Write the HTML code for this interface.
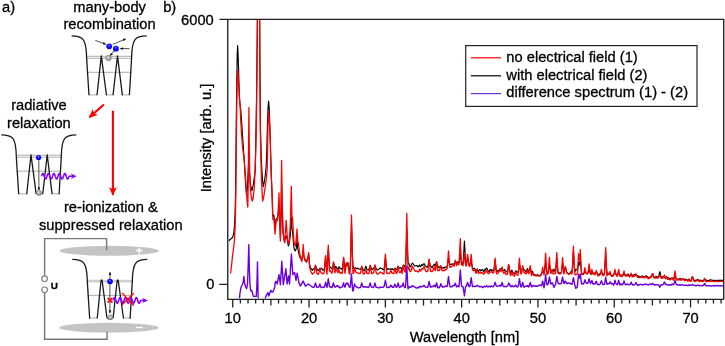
<!DOCTYPE html>
<html><head><meta charset="utf-8"><style>
html,body{margin:0;padding:0;background:#fff;}
body{width:725px;height:346px;overflow:hidden;}
svg{display:block;will-change:transform;}
text{font-family:"Liberation Sans", sans-serif;font-size:14.7px;fill:#000;stroke:#000;stroke-width:0.3px;}
.w{fill:none;stroke:#1a1a1a;stroke-width:1.3;}
.lv{fill:none;stroke:#999;stroke-width:0.8;}
</style></head><body>
<svg width="725" height="346" viewBox="0 0 725 346">
<defs>
<clipPath id="pc"><rect x="228.5" y="19" width="495" height="279.3"/></clipPath>
<radialGradient id="gb" cx="0.5" cy="0.5" r="0.5" fx="0.48" fy="0.3"><stop offset="0" stop-color="#c0c8ff"/><stop offset="0.25" stop-color="#2a2aff"/><stop offset="0.8" stop-color="#0000ff"/><stop offset="1" stop-color="#0000e0"/></radialGradient>
<radialGradient id="gg" cx="0.45" cy="0.4" r="0.6"><stop offset="0" stop-color="#d8e0d8"/><stop offset="1" stop-color="#7a8a7a"/></radialGradient>
<marker id="ah" viewBox="0 0 6 6" refX="5" refY="3" markerWidth="3.2" markerHeight="3.2" markerUnits="userSpaceOnUse" orient="auto"><path d="M0,0.6L6,3L0,5.4z" fill="#111"/></marker>
<marker id="ahr" viewBox="0 0 10 10" refX="9" refY="5" markerWidth="8.6" markerHeight="8.6" markerUnits="userSpaceOnUse" orient="auto"><path d="M0,0.3L10,5L0,9.7L2.5,5z" fill="#f00"/></marker>
<marker id="ahp" viewBox="0 0 10 10" refX="9" refY="5" markerWidth="6" markerHeight="6" markerUnits="userSpaceOnUse" orient="auto"><path d="M0,0L10,5L0,10L3,5z" fill="#8800ff"/></marker>
</defs>

<text x="2" y="11.5">a)</text>
<text x="109.6" y="11.5" text-anchor="middle">many-body</text>
<text x="109.6" y="28.7" text-anchor="middle">recombination</text>
<text x="38.9" y="109.9" text-anchor="middle">radiative</text>
<text x="38.9" y="128.1" text-anchor="middle">relaxation</text>
<text x="110.9" y="212.2" text-anchor="middle">re-ionization &amp;</text>
<text x="110.8" y="230.3" text-anchor="middle">suppressed relaxation</text>
<text x="163.2" y="11.8">b)</text>
<text x="213.8" y="24.5" text-anchor="end">6000</text>
<text x="214.3" y="288.9" text-anchor="end">0</text>
<text x="232.75" y="322.7" text-anchor="middle">10</text><text x="309.05" y="322.7" text-anchor="middle">20</text><text x="385.35" y="322.7" text-anchor="middle">30</text><text x="461.65" y="322.7" text-anchor="middle">40</text><text x="537.95" y="322.7" text-anchor="middle">50</text><text x="614.25" y="322.7" text-anchor="middle">60</text><text x="690.55" y="322.7" text-anchor="middle">70</text>
<text x="464.5" y="341.6" text-anchor="middle">Wavelength [nm]</text>
<text transform="translate(210.9,138) rotate(-90)" text-anchor="middle">Intensity [arb. u.]</text>
<g clip-path="url(#pc)" fill="none" stroke-linejoin="round">
<polyline points="228.6,241.0 230.0,239.5 231.5,238.5 232.6,237.4 233.6,234.0 234.3,228.0 235.0,216.0 235.5,195.0 235.9,160.0 236.3,120.0 236.8,80.0 237.2,55.0 237.6,45.6 238.0,52.0 238.6,70.0 239.2,90.0 239.8,103.0 240.2,106.2 240.8,110.0 241.5,120.0 242.5,135.0 243.5,150.0 244.5,165.0 245.5,182.0 246.5,194.7 247.3,190.0 248.0,175.0 248.8,160.0 249.5,172.0 250.5,185.0 252.0,190.7 253.2,185.0 254.2,178.0 255.2,171.6 255.8,140.0 256.5,100.0 257.1,50.0 257.5,10.0 258.6,5.0 259.6,10.0 259.9,60.0 260.5,130.0 261.3,160.0 262.5,180.0 263.3,186.6 264.3,182.0 265.3,175.0 266.2,166.0 266.8,150.0 267.4,125.0 268.0,108.0 268.6,101.0 269.2,108.0 269.8,125.0 270.3,140.0 270.9,162.0 271.5,180.0 272.2,198.0 272.6,216.0 273.9,215.0 275.0,228.0 276.1,219.0 277.6,218.0 278.3,212.0 279.0,203.0 279.6,218.0 280.4,238.0 281.0,220.0 281.6,184.0 282.2,210.0 283.0,232.0 284.0,240.0 284.8,241.0 285.5,236.0 286.2,236.0 286.8,238.0 287.4,240.0 288.3,246.0 289.1,244.0 290.3,236.0 291.3,217.0 291.9,228.0 292.7,233.0 293.5,244.0 294.2,249.0 295.2,251.0 296.2,249.0 297.0,240.0 297.7,248.0 298.5,252.0 299.5,256.0 300.3,258.0 301.8,260.0 303.2,250.0 304.2,258.0 305.4,261.0 306.5,262.0 308.7,255.0 309.5,264.0 310.5,268.0 312.0,269.7 312.5,270.3 313.0,269.0 313.5,268.8 314.0,269.1 314.5,268.5 315.0,267.0 315.5,265.3 316.0,266.9 316.5,268.1 317.0,269.1 317.5,269.8 318.0,270.7 318.5,270.2 318.9,269.7 319.0,269.6 319.5,268.9 319.9,268.3 320.0,268.3 320.5,268.3 321.0,268.2 321.5,268.6 322.0,268.8 322.5,270.0 323.0,270.2 323.5,270.1 324.0,269.4 324.5,267.6 325.0,262.8 325.3,259.8 325.5,257.5 325.6,256.6 326.0,261.0 326.3,264.1 326.5,265.8 326.6,267.5 327.0,269.9 327.5,262.2 328.0,254.2 328.3,249.1 328.5,252.1 329.0,260.1 329.5,267.8 330.0,267.7 330.5,267.2 330.6,267.1 331.0,267.9 331.5,268.2 332.0,268.9 332.5,267.9 333.0,265.5 333.5,262.0 334.0,264.4 334.2,265.4 334.5,267.6 334.9,269.0 335.0,268.9 335.5,266.9 335.9,266.4 336.0,266.6 336.5,267.2 337.0,268.7 337.2,268.4 337.5,269.0 338.0,269.4 338.5,268.5 338.9,266.6 339.0,266.7 339.5,267.9 340.0,268.2 340.5,268.5 341.0,268.1 341.5,269.2 342.0,269.7 342.5,268.8 343.0,264.0 343.5,258.7 343.6,257.7 344.0,261.4 344.5,265.8 344.6,266.5 344.9,269.4 345.0,269.5 345.0,269.5 345.5,267.0 346.0,264.8 346.3,263.1 346.5,264.0 347.0,265.3 347.5,264.3 347.9,262.7 348.0,263.3 348.5,266.0 349.0,269.3 349.5,269.9 350.0,269.6 350.5,260.1 351.0,243.3 351.5,224.3 352.0,240.3 352.5,255.9 352.6,259.1 353.0,265.8 353.5,267.5 354.0,268.7 354.5,268.5 354.7,268.0 355.0,268.1 355.5,267.6 356.0,268.5 356.5,268.5 357.0,268.8 357.5,268.2 358.0,268.4 358.5,268.6 359.0,269.0 359.5,269.2 360.0,269.1 360.5,268.9 360.6,268.8 361.0,268.3 361.5,267.5 361.7,266.8 362.0,267.5 362.5,268.0 363.0,269.7 363.2,269.9 363.5,270.2 363.5,270.2 364.0,270.6 364.5,269.9 365.0,268.6 365.5,267.0 365.9,266.2 366.0,266.5 366.5,268.1 367.0,269.7 367.5,269.5 368.0,270.0 368.5,269.2 368.8,269.8 369.0,270.0 369.5,267.9 370.0,266.4 370.2,265.3 370.5,265.8 371.0,267.5 371.5,269.3 371.6,269.4 372.0,269.9 372.5,269.4 373.0,268.6 373.5,268.4 374.0,267.6 374.5,266.8 374.7,266.0 374.9,265.4 375.0,265.6 375.0,265.7 375.5,267.0 376.0,268.3 376.5,268.9 377.0,269.6 377.5,270.1 378.0,269.7 378.5,269.1 379.0,269.0 379.5,268.6 380.0,268.2 380.2,267.9 380.5,268.2 381.0,268.4 381.5,268.6 382.0,268.6 382.5,269.0 383.0,269.6 383.5,269.4 384.0,270.2 384.5,266.5 385.0,261.3 385.2,259.2 385.4,257.1 385.5,258.1 385.7,259.8 386.0,263.1 386.5,268.0 387.0,269.4 387.5,268.7 388.0,269.1 388.5,268.9 389.0,269.2 389.5,269.2 390.0,269.2 390.5,268.8 390.9,268.7 391.0,268.9 391.5,268.8 392.0,269.7 392.5,268.8 393.0,269.2 393.1,269.3 393.5,269.7 393.8,269.8 394.0,269.7 394.5,269.2 394.9,268.1 395.0,268.1 395.5,268.4 395.9,269.1 396.0,269.3 396.5,269.5 397.0,269.3 397.5,268.0 397.9,266.8 398.0,266.6 398.1,266.4 398.5,267.5 399.0,267.8 399.5,268.2 400.0,267.9 400.5,267.7 401.0,267.6 401.0,267.6 401.4,268.8 401.5,269.1 402.0,270.3 402.5,269.0 403.0,266.7 403.3,265.3 403.5,265.1 404.0,265.2 404.5,266.3 405.0,267.2 405.5,267.7 406.0,255.0 406.0,254.4 406.5,239.2 406.8,229.5 407.0,234.7 407.5,248.0 407.6,252.2 407.9,259.0 408.0,261.9 408.5,263.4 408.8,263.3 409.0,263.6 409.0,263.7 409.5,265.4 410.0,266.9 410.5,266.8 411.0,266.2 411.5,264.5 412.0,263.6 412.1,263.4 412.5,263.1 412.8,263.2 413.0,263.6 413.2,263.9 413.5,264.3 413.9,265.1 414.0,265.3 414.5,265.8 414.7,265.8 415.0,266.0 415.5,266.0 416.0,265.7 416.5,265.5 417.0,265.7 417.5,266.4 418.0,267.0 418.5,266.1 419.0,265.7 419.5,265.2 419.6,265.3 420.0,266.4 420.5,266.7 421.0,266.1 421.5,264.5 421.6,264.5 422.0,265.4 422.5,265.1 423.0,265.3 423.1,264.9 423.5,263.9 423.7,263.9 424.0,264.3 424.2,263.8 424.5,264.0 425.0,265.6 425.5,265.9 426.0,266.5 426.5,267.0 427.0,267.1 427.5,267.0 428.0,265.8 428.5,263.2 429.0,260.5 429.1,259.8 429.5,261.8 430.0,264.3 430.1,265.1 430.5,266.1 431.0,266.7 431.5,266.8 432.0,267.8 432.5,267.2 433.0,266.1 433.2,265.6 433.5,265.1 434.0,264.5 434.3,264.1 434.4,264.2 434.5,264.4 435.0,266.2 435.5,265.9 436.0,263.9 436.5,261.5 437.0,263.5 437.5,265.3 437.8,266.4 438.0,266.2 438.5,266.8 439.0,267.7 439.5,267.2 440.0,266.7 440.5,266.2 440.8,266.0 441.0,266.7 441.5,267.8 442.0,268.3 442.5,267.8 442.7,267.9 443.0,268.0 443.5,267.4 444.0,268.1 444.5,267.3 445.0,267.7 445.5,267.3 446.0,267.3 446.5,266.9 447.0,266.1 447.5,265.0 447.8,262.5 448.0,261.3 448.5,258.2 449.0,260.7 449.5,264.1 450.0,264.6 450.5,264.4 451.0,264.0 451.5,264.4 452.0,264.2 452.5,264.1 453.0,263.7 453.1,263.8 453.5,264.4 454.0,264.8 454.5,263.4 455.0,262.0 455.3,261.1 455.5,261.1 456.0,262.5 456.5,263.5 456.9,262.7 457.0,262.5 457.4,261.9 457.5,262.1 458.0,262.1 458.5,262.7 459.0,262.4 459.5,259.1 460.0,254.8 460.2,253.9 460.3,253.2 460.5,255.2 461.0,259.4 461.5,263.9 462.0,263.1 462.5,262.6 463.0,263.2 463.1,263.3 463.5,257.2 464.0,248.3 464.4,241.1 464.5,242.9 464.9,249.6 464.9,249.8 465.0,252.5 465.5,261.6 465.5,262.0 466.0,264.9 466.5,263.7 467.0,260.7 467.5,257.0 467.6,256.4 468.0,259.0 468.5,262.6 469.0,264.5 469.5,264.4 469.8,264.4 470.0,264.2 470.5,263.4 471.0,262.1 471.2,261.8 471.5,263.6 472.0,265.7 472.5,268.1 473.0,268.6 473.2,268.6 473.5,268.8 474.0,268.6 474.5,268.2 475.0,269.2 475.1,269.4 475.5,270.7 476.0,272.5 476.5,270.9 477.0,269.3 477.2,268.8 477.5,269.4 478.0,271.0 478.5,271.8 479.0,270.4 479.5,269.9 480.0,269.6 480.5,270.9 481.0,270.7 481.5,270.7 482.0,269.5 482.5,269.6 483.0,269.8 483.5,271.5 484.0,271.1 484.5,271.2 485.0,269.1 485.5,269.8 486.0,268.4 486.5,268.4 486.7,268.1 487.0,268.5 487.5,269.4 488.0,270.5 488.5,271.1 489.0,271.8 489.5,270.6 490.0,269.8 490.5,269.6 491.0,270.3 491.5,269.7 491.7,269.6 492.0,270.2 492.5,270.2 493.0,271.0 493.5,270.4 494.0,269.7 494.5,265.4 495.0,260.8 495.1,260.1 495.5,264.0 496.0,268.4 496.1,269.3 496.5,271.9 497.0,270.7 497.5,271.2 498.0,270.9 498.5,271.1 498.9,270.5 499.0,270.3 499.5,269.6 500.0,268.7 500.1,268.6 500.5,269.0 501.0,269.3 501.5,268.5 502.0,268.6 502.1,268.5 502.5,269.3 503.0,270.6 503.5,270.7 503.8,270.6 504.0,270.3 504.5,269.4 504.8,269.6 505.0,270.0 505.5,270.9 506.0,271.5 506.5,271.6 507.0,272.0 507.5,271.6 508.0,268.9 508.5,265.7 508.7,265.3 509.0,266.3 509.1,266.6 509.5,269.3 509.6,270.0 510.0,271.8 510.5,272.6 511.0,272.0 511.5,270.8 512.0,270.2 512.0,270.2 512.5,271.8 513.0,272.9 513.5,273.1 514.0,273.0 514.5,273.9 515.0,272.7 515.5,271.0 515.6,270.7 516.0,271.0 516.5,271.6 517.0,272.1 517.5,271.9 518.0,272.4 518.5,270.0 519.0,266.2 519.4,263.1 519.5,263.9 520.0,267.4 520.5,270.8 521.0,271.2 521.5,270.6 522.0,269.4 522.5,267.7 522.6,267.3 523.0,267.7 523.4,268.5 523.5,268.8 524.0,269.5 524.5,270.1 525.0,270.3 525.5,271.6 526.0,271.6 526.5,271.1 527.0,269.8 527.5,268.5 527.5,268.6 528.0,269.7 528.5,270.6 529.0,271.4 529.5,269.6 530.0,267.5 530.2,267.3 530.5,268.7 531.0,271.2 531.5,273.8 532.0,272.3 532.5,271.4 532.6,271.4 533.0,272.9 533.5,274.1 534.0,275.4 534.5,274.6 535.0,275.3 535.5,274.8 536.0,275.3 536.5,275.0 537.0,275.1 537.5,274.6 538.0,275.0 538.5,275.2 539.0,275.8 539.5,276.0 540.0,276.0 540.5,275.5 541.0,274.2 541.5,273.5 542.0,272.6 542.5,271.7 542.7,270.6 543.0,271.2 543.5,270.9 544.0,270.9 544.5,271.0 545.0,267.0 545.5,263.7 545.6,262.6 546.0,266.1 546.5,270.5 547.0,273.4 547.5,273.1 548.0,272.9 548.5,270.2 549.0,266.1 549.4,263.3 549.5,264.4 550.0,268.2 550.5,271.7 551.0,272.6 551.2,271.9 551.5,270.7 552.0,270.0 552.1,269.9 552.5,270.8 553.0,271.7 553.5,270.6 554.0,269.1 554.5,270.3 555.0,271.4 555.5,272.3 556.0,266.8 556.5,262.0 556.8,259.2 557.0,261.6 557.5,268.0 558.0,272.8 558.5,273.1 559.0,272.8 559.5,272.9 560.0,273.3 560.5,273.0 561.0,272.9 561.5,272.3 562.0,268.3 562.5,264.4 562.6,263.5 563.0,265.9 563.5,270.0 564.0,273.1 564.5,271.1 565.0,268.7 565.1,268.1 565.2,267.8 565.5,268.1 565.9,269.0 566.0,269.6 566.5,271.4 567.0,272.6 567.5,273.0 568.0,273.5 568.5,273.5 569.0,273.9 569.5,273.5 570.0,273.2 570.2,272.7 570.5,272.2 571.0,271.6 571.5,272.0 572.0,272.2 572.5,266.3 573.0,257.7 573.4,250.9 573.5,252.6 574.0,261.8 574.0,262.5 574.5,269.5 574.9,271.7 575.0,271.6 575.5,270.3 575.7,269.2 576.0,269.3 576.5,269.3 577.0,269.6 577.5,270.6 578.0,267.1 578.5,263.3 578.6,262.2 579.0,265.2 579.5,264.1 579.9,262.7 580.0,261.7 580.3,258.5 580.5,261.3 581.0,267.3 581.5,273.2 581.6,273.7 582.0,273.4 582.1,273.4 582.5,273.6 583.0,273.9 583.5,273.7 584.0,273.0 584.5,271.9 584.9,271.1 585.0,271.4 585.5,272.0 586.0,273.1 586.5,273.6 587.0,273.9 587.5,273.7 588.0,273.1 588.5,271.0 588.7,270.1 589.0,269.0 589.1,268.5 589.5,270.0 589.6,270.6 590.0,272.5 590.5,273.9 591.0,274.3 591.2,273.7 591.5,273.1 591.9,272.3 592.0,272.4 592.5,272.8 593.0,273.6 593.5,273.5 593.9,272.9 594.0,272.9 594.5,273.4 595.0,274.0 595.5,273.6 596.0,272.8 596.2,272.4 596.5,272.5 597.0,272.7 597.5,274.1 598.0,275.0 598.5,274.7 599.0,274.3 599.5,273.7 600.0,274.2 600.5,274.0 601.0,273.0 601.4,272.2 601.5,272.3 602.0,273.4 602.5,274.6 603.0,274.5 603.5,274.5 604.0,273.9 604.5,273.0 604.5,272.8 605.0,264.0 605.3,260.0 605.5,256.3 605.7,253.5 606.0,259.4 606.5,268.3 607.0,275.1 607.5,273.7 607.8,273.0 608.0,273.2 608.5,274.3 608.6,274.4 609.0,274.2 609.5,274.1 610.0,273.7 610.1,273.7 610.5,274.7 610.5,274.7 611.0,275.2 611.5,276.1 612.0,276.4 612.5,276.3 613.0,275.4 613.5,274.1 614.0,273.8 614.5,273.1 615.0,272.3 615.5,273.0 616.0,274.2 616.5,275.0 617.0,275.3 617.5,275.2 617.5,275.1 618.0,273.8 618.1,273.7 618.5,273.0 618.7,272.7 618.9,273.0 619.0,273.2 619.5,274.2 619.6,274.6 620.0,274.9 620.5,274.9 620.9,275.0 621.0,275.5 621.5,275.9 622.0,275.6 622.5,275.1 623.0,274.9 623.5,274.4 623.9,274.0 624.0,273.8 624.4,274.3 624.5,274.4 625.0,275.2 625.5,275.0 625.9,275.1 626.0,275.1 626.5,275.0 626.7,274.9 627.0,275.1 627.5,275.0 628.0,274.1 628.1,274.1 628.5,274.5 629.0,275.1 629.5,275.6 630.0,275.8 630.1,275.6 630.5,274.8 631.0,274.7 631.1,274.6 631.5,275.0 632.0,275.9 632.2,275.7 632.5,275.4 633.0,275.1 633.5,274.9 634.0,275.2 634.5,274.6 635.0,274.8 635.5,274.8 635.9,275.1 636.0,275.2 636.5,275.0 637.0,275.4 637.5,276.0 638.0,275.9 638.5,276.4 639.0,276.2 639.5,276.9 640.0,276.7 640.5,276.6 641.0,276.6 641.5,276.2 642.0,276.3 642.5,275.8 643.0,276.6 643.5,276.5 644.0,277.2 644.5,276.8 645.0,277.4 645.5,276.2 646.0,276.0 646.2,275.8 646.5,275.7 647.0,276.7 647.5,276.6 648.0,277.4 648.5,277.3 649.0,278.1 649.5,277.6 650.0,277.9 650.5,276.4 650.6,276.3 651.0,276.6 651.5,275.8 652.0,274.7 652.2,274.1 652.5,273.9 652.8,273.9 653.0,274.5 653.5,276.4 654.0,277.1 654.5,277.1 655.0,277.0 655.5,276.8 656.0,276.4 656.5,276.5 657.0,276.9 657.5,277.1 658.0,277.0 658.5,276.8 659.0,275.0 659.5,273.0 659.8,271.5 660.0,272.5 660.2,273.2 660.5,274.6 660.9,276.2 661.0,276.8 661.5,277.3 662.0,277.3 662.5,276.9 663.0,277.1 663.5,276.9 664.0,276.6 664.3,276.4 664.4,276.6 664.5,276.8 665.0,277.7 665.5,278.2 666.0,277.2 666.5,276.4 667.0,277.5 667.5,278.2 668.0,278.0 668.5,277.6 669.0,278.0 669.5,278.5 670.0,278.7 670.5,278.4 671.0,278.2 671.5,278.2 672.0,278.0 672.1,277.9 672.5,278.4 673.0,279.0 673.1,279.3 673.5,279.5 673.5,279.5 674.0,278.8 674.5,276.4 675.0,274.4 675.5,276.3 676.0,278.7 676.5,279.7 677.0,279.4 677.4,279.2 677.5,279.2 678.0,278.9 678.5,279.0 679.0,279.1 679.5,278.9 680.0,278.3 680.0,278.3 680.5,278.7 681.0,279.2 681.5,279.0 682.0,279.1 682.0,279.1 682.4,279.2 682.5,279.2 683.0,279.0 683.4,278.6 683.5,278.6 684.0,279.0 684.5,279.8 685.0,279.6 685.5,279.2 685.6,279.2 686.0,279.3 686.5,279.6 686.9,279.7 687.0,279.8 687.5,280.1 688.0,280.5 688.5,279.6 689.0,279.0 689.1,279.0 689.5,279.5 690.0,280.5 690.5,280.7 691.0,280.7 691.5,279.2 692.0,277.8 692.2,277.2 692.2,277.1 692.5,276.8 692.5,276.9 693.0,278.0 693.3,278.7 693.5,279.2 694.0,280.2 694.5,280.5 695.0,280.4 695.5,280.3 696.0,280.3 696.5,280.1 697.0,279.9 697.5,279.6 697.8,279.3 698.0,279.4 698.5,279.9 699.0,280.5 699.5,280.4 700.0,280.6 700.5,280.2 701.0,280.2 701.5,280.2 702.0,280.7 702.5,280.8 703.0,280.6 703.0,280.6 703.0,280.6 703.5,280.3 704.0,279.8 704.5,279.4 704.6,279.4 705.0,279.8 705.5,280.0 706.0,280.3 706.5,280.1 707.0,280.4 707.5,280.5 708.0,280.5 708.5,280.7 709.0,280.4 709.5,280.3 710.0,280.0 710.5,279.7 711.0,280.0 711.5,280.1 712.0,280.3 712.5,280.3 713.0,280.3 713.5,280.3 714.0,280.4 714.5,280.6 715.0,280.8 715.5,280.5 716.0,280.1 716.5,280.5 717.0,280.7 717.5,280.9 718.0,280.4 718.5,280.2 719.0,280.4 719.5,280.3 720.0,280.4 720.5,280.3 721.0,280.2 721.5,280.2 722.0,280.5 722.5,280.2 723.0,280.3" stroke="#000" stroke-width="1.15"/>
<polyline points="230.5,273.5 231.5,266.0 232.3,258.0 233.3,250.0 234.3,242.0 235.0,230.0 235.5,215.0 235.9,190.0 236.2,160.0 236.5,130.0 236.8,105.0 237.2,82.0 237.6,70.5 238.1,76.0 238.7,86.0 239.3,97.0 240.0,104.0 240.3,110.0 240.7,120.0 241.6,135.0 242.6,148.0 243.3,153.0 243.8,154.5 244.2,160.0 245.4,175.0 246.3,190.0 247.2,202.0 247.8,207.0 248.3,180.0 248.6,140.0 248.9,107.5 249.2,140.0 249.6,170.0 250.3,188.0 251.3,197.0 252.3,201.0 253.2,198.0 254.2,188.0 255.0,172.0 255.8,150.0 256.4,125.0 257.0,70.0 257.5,10.0 258.6,5.0 259.6,10.0 259.9,80.0 260.3,130.0 260.9,160.0 261.6,182.0 262.3,196.0 262.7,201.0 263.5,198.0 264.5,192.0 265.5,185.0 266.5,177.0 267.2,169.0 267.6,150.0 268.0,125.0 268.5,110.5 269.0,115.0 269.6,125.0 270.2,138.0 270.7,160.0 271.3,177.0 272.0,192.0 272.5,205.0 272.9,219.5 273.9,218.0 275.0,234.0 276.1,221.5 277.6,220.5 278.3,210.0 279.0,193.0 279.6,215.0 280.4,241.0 281.0,210.0 281.6,160.5 282.2,200.0 283.0,231.0 284.0,240.0 284.8,242.7 285.5,230.0 286.2,220.3 286.8,230.0 287.4,238.3 288.3,244.0 289.1,242.7 290.3,225.0 291.3,186.4 291.9,215.0 292.7,219.5 293.5,235.0 294.2,243.5 295.2,246.0 296.2,240.0 297.0,229.0 297.7,240.0 298.5,244.5 299.5,252.0 300.3,256.5 301.8,261.6 302.6,255.0 303.2,244.5 303.9,256.0 305.4,260.3 306.5,262.0 307.7,258.0 308.7,252.4 309.5,266.0 310.5,270.5 311.2,272.0 312.0,273.6 312.5,274.2 313.0,273.2 313.5,273.0 314.0,272.9 314.5,271.7 315.0,268.3 315.5,265.1 316.0,268.3 316.5,271.4 317.0,273.3 317.5,273.7 318.0,274.5 318.5,274.3 318.9,273.1 319.0,272.7 319.5,270.3 319.9,268.5 320.0,268.8 320.5,270.9 321.0,272.6 321.5,273.2 322.0,272.9 322.5,273.6 323.0,273.9 323.5,273.7 324.0,273.1 324.5,271.1 325.0,264.3 325.3,260.1 325.5,257.2 325.6,255.7 326.0,261.2 326.3,266.0 326.5,268.5 326.6,270.8 327.0,274.2 327.5,263.8 328.0,252.3 328.3,245.1 328.5,249.3 329.0,260.2 329.5,271.2 330.0,271.1 330.5,270.8 330.6,270.7 331.0,271.8 331.5,272.9 332.0,273.2 332.5,271.0 333.0,266.7 333.5,262.1 334.0,266.3 334.2,267.8 334.5,270.8 334.9,272.9 335.0,272.6 335.5,270.7 335.9,269.5 336.0,269.7 336.5,270.2 337.0,270.9 337.2,270.5 337.5,271.8 338.0,272.7 338.5,271.7 338.9,269.6 339.0,269.8 339.5,271.7 340.0,272.9 340.5,273.1 341.0,272.3 341.5,273.1 342.0,273.6 342.5,272.1 343.0,265.7 343.5,258.6 343.6,257.3 344.0,262.6 344.5,268.8 344.6,269.7 344.9,273.3 345.0,273.3 345.0,273.3 345.5,269.4 346.0,265.5 346.3,262.9 346.5,264.7 347.0,266.0 347.5,265.2 347.9,262.6 348.0,263.7 348.5,268.1 349.0,272.9 349.5,274.0 350.0,273.9 350.5,261.7 351.0,238.7 351.5,215.0 352.0,238.7 352.5,261.7 352.6,266.4 353.0,273.5 353.5,273.3 354.0,271.3 354.5,269.4 354.7,268.5 355.0,269.6 355.5,270.6 356.0,272.2 356.5,272.3 357.0,272.9 357.5,272.9 358.0,273.2 358.5,273.2 359.0,273.4 359.5,273.5 360.0,273.4 360.5,273.1 360.6,272.5 361.0,270.2 361.5,267.5 361.7,266.1 362.0,267.9 362.5,270.5 363.0,273.3 363.2,273.6 363.5,273.9 363.5,274.0 364.0,274.0 364.5,273.7 365.0,272.4 365.5,270.8 365.9,269.8 366.0,270.3 366.5,272.1 367.0,273.4 367.5,273.2 368.0,273.5 368.5,273.4 368.8,273.5 369.0,273.3 369.5,269.9 370.0,266.8 370.2,265.3 370.5,267.1 371.0,270.7 371.5,273.5 371.6,273.5 372.0,273.8 372.5,273.2 373.0,272.9 373.5,272.9 374.0,270.7 374.5,267.6 374.7,266.1 374.9,264.8 375.0,265.4 375.0,265.5 375.5,268.8 376.0,272.1 376.5,273.1 377.0,273.8 377.5,274.2 378.0,274.1 378.5,273.7 379.0,273.4 379.5,272.8 380.0,272.1 380.2,271.8 380.5,272.3 381.0,272.7 381.5,272.7 382.0,272.8 382.5,273.3 383.0,273.9 383.5,273.7 384.0,273.8 384.5,268.1 385.0,260.4 385.2,257.2 385.4,254.1 385.5,255.7 385.7,258.4 386.0,263.6 386.5,271.3 387.0,273.7 387.5,273.2 388.0,273.5 388.5,273.2 389.0,273.6 389.5,273.4 390.0,272.5 390.5,271.0 390.9,270.3 391.0,270.7 391.5,271.8 392.0,273.2 392.5,273.2 393.0,273.1 393.1,273.2 393.5,273.8 393.8,273.4 394.0,272.5 394.5,270.5 394.9,268.7 395.0,269.0 395.5,270.7 395.9,272.6 396.0,273.1 396.5,273.5 397.0,272.8 397.5,269.8 397.9,267.1 398.0,266.5 398.1,266.0 398.5,268.4 399.0,270.9 399.5,272.7 400.0,272.4 400.5,271.6 401.0,270.6 401.0,270.6 401.4,272.0 401.5,272.4 402.0,273.6 402.5,271.0 403.0,267.6 403.3,265.5 403.5,266.2 404.0,268.7 404.5,271.0 405.0,271.8 405.5,272.1 406.0,252.1 406.0,251.2 406.5,227.6 406.8,213.3 407.0,222.3 407.5,245.5 407.6,252.5 407.9,263.8 408.0,268.1 408.5,269.3 408.8,267.9 409.0,267.9 409.0,268.0 409.5,269.9 410.0,271.5 410.5,271.8 411.0,271.0 411.5,269.1 412.0,266.9 412.1,266.7 412.5,266.7 412.8,266.7 413.0,267.4 413.2,267.8 413.5,268.3 413.9,269.1 414.0,269.2 414.5,270.3 414.7,270.4 415.0,271.1 415.5,271.3 416.0,271.1 416.5,271.0 417.0,271.4 417.5,271.4 418.0,272.1 418.5,271.5 419.0,270.8 419.5,269.6 419.6,269.4 420.0,270.2 420.5,271.2 421.0,270.3 421.5,269.0 421.6,268.7 422.0,269.4 422.5,269.4 423.0,269.0 423.1,268.5 423.5,267.5 423.7,267.1 424.0,267.3 424.2,266.6 424.5,267.4 425.0,269.8 425.5,270.7 426.0,271.4 426.5,271.7 427.0,271.7 427.5,271.7 428.0,270.0 428.5,265.3 429.0,260.2 429.1,259.1 429.5,263.3 430.0,267.7 430.1,269.2 430.5,271.4 431.0,271.0 431.5,271.1 432.0,271.7 432.5,271.3 433.0,270.3 433.2,269.7 433.5,268.9 434.0,267.9 434.3,267.2 434.4,267.5 434.5,267.9 435.0,270.6 435.5,270.3 436.0,266.0 436.5,261.7 437.0,264.9 437.5,268.7 437.8,270.6 438.0,270.3 438.5,270.7 439.0,270.7 439.5,270.4 440.0,268.3 440.5,266.8 440.8,265.6 441.0,266.6 441.5,268.9 442.0,270.7 442.5,270.6 442.7,270.7 443.0,270.8 443.5,270.5 444.0,270.9 444.5,270.2 445.0,270.3 445.5,269.6 446.0,269.4 446.5,269.3 447.0,268.7 447.5,265.6 447.8,260.4 448.0,257.9 448.5,250.8 449.0,257.4 449.5,264.6 450.0,267.3 450.5,267.1 451.0,266.5 451.5,266.8 452.0,266.4 452.5,265.8 453.0,264.7 453.1,264.6 453.5,265.4 454.0,266.3 454.5,264.8 455.0,261.9 455.3,260.2 455.5,260.9 456.0,263.5 456.5,265.7 456.9,264.7 457.0,264.4 457.4,263.3 457.5,263.4 458.0,263.7 458.5,264.8 459.0,264.5 459.5,255.2 460.0,244.5 460.2,241.2 460.3,238.6 460.5,243.2 461.0,254.1 461.5,264.8 462.0,265.2 462.5,264.8 463.0,265.5 463.1,265.5 463.5,262.0 464.0,256.7 464.4,252.3 464.5,253.3 464.9,257.1 464.9,257.2 465.0,258.8 465.5,264.2 465.5,264.4 466.0,266.2 466.5,264.8 467.0,260.5 467.5,255.3 467.6,254.4 468.0,258.1 468.5,262.8 469.0,266.0 469.5,266.4 469.8,266.3 470.0,265.7 470.5,261.4 471.0,256.0 471.2,254.4 471.5,258.3 472.0,264.0 472.5,269.9 473.0,270.2 473.2,270.3 473.5,270.4 474.0,270.1 474.5,269.8 475.0,270.4 475.1,270.6 475.5,272.0 476.0,273.4 476.5,272.1 477.0,269.8 477.2,269.1 477.5,270.2 478.0,272.4 478.5,273.6 479.0,273.0 479.5,272.4 480.0,272.5 480.5,273.1 481.0,272.9 481.5,273.1 482.0,272.4 482.5,272.8 483.0,273.2 483.5,274.2 484.0,273.5 484.5,273.2 485.0,272.0 485.5,272.5 486.0,271.2 486.5,270.3 486.7,269.8 487.0,270.8 487.5,272.3 488.0,273.5 488.5,273.5 489.0,273.5 489.5,272.7 490.0,272.4 490.5,272.2 491.0,272.0 491.5,271.3 491.7,271.1 492.0,271.9 492.5,272.6 493.0,273.2 493.5,272.9 494.0,271.3 494.5,265.4 495.0,259.2 495.1,258.1 495.5,263.3 496.0,269.1 496.1,270.3 496.5,273.7 497.0,273.3 497.5,273.8 498.0,273.0 498.5,272.7 498.9,272.0 499.0,271.8 499.5,270.8 500.0,269.5 500.1,269.4 500.5,270.9 501.0,271.7 501.5,269.3 502.0,267.3 502.1,266.8 502.5,268.8 503.0,271.7 503.5,273.1 503.8,273.2 504.0,273.0 504.5,272.1 504.8,271.9 505.0,272.4 505.5,273.6 506.0,274.3 506.5,274.4 507.0,274.6 507.5,273.7 508.0,270.2 508.5,265.1 508.7,264.4 509.0,265.6 509.1,266.0 509.5,269.6 509.6,270.7 510.0,273.6 510.5,275.5 511.0,275.2 511.5,273.2 512.0,271.6 512.0,271.6 512.5,273.8 513.0,275.4 513.5,275.7 514.0,275.5 514.5,276.2 515.0,274.2 515.5,271.8 515.6,271.4 516.0,272.5 516.5,274.2 517.0,274.8 517.5,275.0 518.0,275.3 518.5,270.8 519.0,264.0 519.4,258.1 519.5,259.3 520.0,265.9 520.5,272.1 521.0,274.1 521.5,273.3 522.0,270.1 522.5,266.3 522.6,265.6 523.0,267.7 523.4,269.9 523.5,270.5 524.0,272.6 524.5,272.3 525.0,272.6 525.5,273.6 526.0,273.8 526.5,273.5 527.0,271.7 527.5,270.1 527.5,270.3 528.0,271.8 528.5,273.3 529.0,273.7 529.5,270.1 530.0,266.8 530.2,265.6 530.5,267.8 531.0,272.0 531.5,275.7 532.0,274.1 532.5,272.9 532.6,272.4 533.0,273.4 533.5,274.7 534.0,275.3 534.5,275.1 535.0,275.7 535.5,275.5 536.0,276.0 536.5,275.9 537.0,275.9 537.5,275.9 538.0,275.9 538.5,275.9 539.0,276.0 539.5,275.8 540.0,275.8 540.5,275.4 541.0,275.1 541.5,274.7 542.0,271.9 542.5,268.5 542.7,267.2 543.0,269.3 543.5,271.8 544.0,274.9 544.5,272.5 545.0,264.0 545.5,255.0 545.6,253.1 546.0,259.9 546.5,268.3 547.0,274.4 547.5,274.1 548.0,274.0 548.5,269.3 549.0,262.6 549.4,257.3 549.5,258.8 550.0,265.5 550.5,271.9 551.0,273.6 551.2,272.7 551.5,271.3 552.0,269.7 552.1,269.5 552.5,271.3 553.0,273.7 553.5,274.0 554.0,273.3 554.5,273.3 555.0,273.6 555.5,273.7 556.0,265.9 556.5,257.6 556.8,252.6 557.0,256.0 557.5,264.9 558.0,272.9 558.5,273.7 559.0,273.6 559.5,273.8 560.0,273.9 560.5,273.8 561.0,273.2 561.5,271.9 562.0,265.0 562.5,259.0 562.6,257.6 563.0,262.4 563.5,269.3 564.0,274.0 564.5,271.3 565.0,267.8 565.1,266.9 565.2,266.4 565.5,267.1 565.9,268.3 566.0,269.2 566.5,272.0 567.0,273.4 567.5,273.4 568.0,273.7 568.5,274.0 569.0,274.5 569.5,274.0 570.0,273.4 570.2,272.9 570.5,272.7 571.0,272.8 571.5,273.4 572.0,274.0 572.5,266.2 573.0,255.3 573.4,246.1 573.5,248.2 574.0,259.2 574.0,260.1 574.5,270.1 574.9,274.3 575.0,274.5 575.5,274.9 575.7,274.8 576.0,274.7 576.5,274.3 577.0,274.4 577.5,272.4 578.0,263.9 578.5,255.3 578.6,253.6 579.0,260.0 579.5,259.3 579.9,257.2 580.0,255.4 580.3,249.6 580.5,253.9 581.0,263.9 581.5,273.7 581.6,274.6 582.0,274.1 582.1,274.2 582.5,274.3 583.0,274.6 583.5,274.7 584.0,272.8 584.5,270.2 584.9,267.7 585.0,268.3 585.5,270.9 586.0,273.0 586.5,273.7 587.0,273.7 587.5,273.6 588.0,272.8 588.5,268.8 588.7,267.0 589.0,264.9 589.1,263.9 589.5,267.1 589.6,267.9 590.0,271.0 590.5,273.9 591.0,273.1 591.2,272.1 591.5,270.8 591.9,269.3 592.0,269.8 592.5,271.7 593.0,274.2 593.5,273.7 593.9,273.0 594.0,273.2 594.5,273.8 595.0,274.9 595.5,273.2 596.0,271.3 596.2,270.4 596.5,271.3 597.0,272.9 597.5,275.2 598.0,275.8 598.5,275.9 599.0,275.5 599.5,274.9 600.0,274.8 600.5,273.5 601.0,271.2 601.4,269.3 601.5,269.8 602.0,272.1 602.5,275.0 603.0,275.5 603.5,275.5 604.0,275.0 604.5,274.0 604.5,273.8 605.0,262.4 605.3,256.9 605.5,251.8 605.7,247.6 606.0,255.1 606.5,266.6 607.0,275.9 607.5,274.1 607.8,273.0 608.0,273.3 608.5,274.7 608.6,274.7 609.0,274.6 609.5,273.5 610.0,271.8 610.1,271.5 610.5,273.4 610.5,273.5 611.0,274.7 611.5,276.1 612.0,276.1 612.5,276.4 613.0,276.1 613.5,275.6 614.0,274.3 614.5,271.6 615.0,269.3 615.5,272.1 616.0,274.5 616.5,276.0 617.0,276.0 617.5,276.2 617.5,276.0 618.0,272.9 618.1,272.4 618.5,270.3 618.7,269.3 618.9,270.6 619.0,271.2 619.5,274.3 619.6,275.2 620.0,276.4 620.5,275.4 620.9,274.9 621.0,275.3 621.5,276.2 622.0,276.7 622.5,276.2 623.0,275.0 623.5,272.9 623.9,271.4 624.0,270.9 624.4,272.7 624.5,273.1 625.0,275.4 625.5,276.1 625.9,276.2 626.0,276.2 626.5,275.7 626.7,275.7 627.0,276.1 627.5,275.5 628.0,275.3 628.1,275.2 628.5,275.4 629.0,276.5 629.5,276.9 630.0,276.7 630.1,276.5 630.5,274.8 631.0,273.4 631.1,273.2 631.5,274.3 632.0,276.2 632.2,276.7 632.5,276.9 633.0,276.6 633.5,276.1 634.0,276.3 634.5,276.2 635.0,275.4 635.5,274.6 635.9,273.7 636.0,273.9 636.5,275.2 637.0,276.4 637.5,277.4 638.0,277.3 638.5,277.6 639.0,277.5 639.5,277.5 640.0,277.2 640.5,276.8 641.0,277.2 641.5,276.7 642.0,277.2 642.5,276.9 643.0,277.5 643.5,277.5 644.0,277.8 644.5,277.5 645.0,277.7 645.5,276.7 646.0,276.2 646.2,276.0 646.5,276.3 647.0,277.4 647.5,277.8 648.0,278.6 648.5,278.5 649.0,278.5 649.5,277.8 650.0,277.8 650.5,276.9 650.6,276.9 651.0,277.5 651.5,276.5 652.0,274.9 652.2,274.0 652.5,273.6 652.8,273.6 653.0,274.5 653.5,276.7 654.0,277.8 654.5,278.1 655.0,278.1 655.5,278.1 656.0,277.5 656.5,277.6 657.0,277.9 657.5,278.3 658.0,277.8 658.5,277.4 659.0,276.6 659.5,275.5 659.8,274.8 660.0,275.4 660.2,275.7 660.5,276.4 660.9,277.6 661.0,278.0 661.5,278.3 662.0,278.3 662.5,278.0 663.0,278.1 663.5,277.0 664.0,275.7 664.3,274.8 664.4,275.1 664.5,275.6 665.0,277.2 665.5,278.8 666.0,277.8 666.5,276.8 667.0,278.1 667.5,279.3 668.0,279.4 668.5,279.3 669.0,279.3 669.5,279.6 670.0,279.6 670.5,279.8 671.0,279.5 671.5,278.7 672.0,278.0 672.1,277.7 672.5,278.5 673.0,279.7 673.1,280.0 673.5,280.1 673.5,280.1 674.0,278.5 674.5,274.3 675.0,270.8 675.5,274.4 676.0,278.4 676.5,280.1 677.0,279.9 677.4,279.7 677.5,279.7 678.0,279.7 678.5,280.1 679.0,280.2 679.5,279.5 680.0,278.6 680.0,278.6 680.5,279.4 681.0,280.4 681.5,280.0 682.0,279.7 682.0,279.6 682.4,279.7 682.5,279.7 683.0,279.5 683.4,279.0 683.5,279.0 684.0,279.9 684.5,280.7 685.0,280.4 685.5,279.7 685.6,279.7 686.0,280.0 686.5,280.4 686.9,280.4 687.0,280.6 687.5,281.0 688.0,281.4 688.5,280.1 689.0,279.3 689.1,279.1 689.5,279.8 690.0,280.9 690.5,281.3 691.0,281.4 691.5,279.9 692.0,277.8 692.2,277.0 692.2,276.9 692.5,276.7 692.5,276.7 693.0,278.3 693.3,279.2 693.5,279.8 694.0,281.0 694.5,281.4 695.0,281.3 695.5,281.2 696.0,281.2 696.5,281.1 697.0,280.7 697.5,280.2 697.8,279.7 698.0,279.7 698.5,280.6 699.0,281.4 699.5,281.5 700.0,281.4 700.5,281.2 701.0,281.2 701.5,281.2 702.0,281.6 702.5,281.7 703.0,281.7 703.0,281.7 703.0,281.7 703.5,281.0 704.0,279.8 704.5,278.5 704.6,278.3 705.0,279.4 705.5,280.6 706.0,281.6 706.5,281.4 707.0,281.5 707.5,281.5 708.0,281.4 708.5,281.4 709.0,281.3 709.5,281.4 710.0,281.3 710.5,281.1 711.0,281.3 711.5,281.2 712.0,281.3 712.5,281.2 713.0,281.1 713.5,281.4 714.0,281.4 714.5,281.7 715.0,281.6 715.5,281.4 716.0,281.0 716.5,281.3 717.0,281.4 717.5,281.5 718.0,281.5 718.5,281.5 719.0,281.6 719.5,281.3 720.0,281.4 720.5,281.3 721.0,281.3 721.5,281.5 722.0,281.7 722.5,281.4 723.0,281.2" stroke="#f00" stroke-width="1.3"/>
<polyline points="239.3,300.0 240.0,293.0 241.0,287.3 242.3,284.7 243.2,282.0 243.9,276.5 244.6,283.0 245.5,286.5 246.6,288.6 247.5,284.0 248.2,265.0 248.8,244.6 249.4,270.0 250.0,285.0 250.7,290.8 251.8,290.4 252.7,294.0 253.6,296.4 256.2,296.4 256.9,285.0 257.5,262.0 257.9,285.0 258.3,305.0 265.0,305.0 265.3,298.0 266.5,295.0 267.9,292.5 268.8,296.0 270.2,292.0 270.9,290.4 272.0,292.0 272.9,291.9 274.8,287.3 275.1,282.5 276.1,281.3 277.2,284.0 279.0,274.6 280.4,284.7 281.8,261.3 283.3,284.7 285.9,268.8 287.1,284.0 288.5,276.0 289.5,284.0 291.4,254.0 292.8,274.6 294.6,272.4 296.0,280.3 297.2,273.1 298.9,282.5 300.3,286.1 303.2,281.1 305.4,286.1 308.3,284.0 311.9,286.8 312.5,287.0 313.0,287.3 313.5,287.4 314.0,287.1 314.5,286.5 315.0,284.4 315.5,283.0 316.0,284.7 316.5,286.7 317.0,287.5 317.5,287.3 318.0,287.3 318.5,287.4 318.9,286.5 319.0,286.2 319.5,284.9 319.9,283.9 320.0,284.2 320.5,286.2 321.0,287.4 321.5,287.7 322.0,287.3 322.5,287.1 323.0,287.0 323.5,287.2 324.0,287.2 324.5,287.0 325.0,284.7 325.3,283.6 325.5,282.8 325.6,282.3 326.0,283.4 326.3,285.1 326.5,285.9 326.6,286.5 327.0,287.4 327.5,284.5 328.0,280.8 328.3,278.8 328.5,280.1 329.0,283.1 329.5,286.7 330.0,286.9 330.5,287.0 330.6,286.8 331.0,286.9 331.5,287.7 332.0,287.5 332.5,286.4 333.0,284.3 333.5,283.0 334.0,285.1 334.2,285.6 334.5,286.5 334.9,287.3 335.0,287.2 335.5,286.9 335.9,286.4 336.0,286.5 336.5,286.3 337.0,285.6 337.2,285.5 337.5,286.0 338.0,286.6 338.5,286.7 338.9,286.2 339.0,286.4 339.5,287.2 340.0,287.8 340.5,287.8 341.0,287.3 341.5,287.1 342.0,287.0 342.5,286.5 343.0,284.8 343.5,283.1 343.6,282.8 344.0,284.5 344.5,286.2 344.6,286.4 344.9,287.2 345.0,287.1 345.0,287.1 345.5,285.7 346.0,283.9 346.3,283.0 346.5,283.8 347.0,283.9 347.5,284.1 347.9,283.0 348.0,283.4 348.5,285.1 349.0,286.6 349.5,287.2 350.0,287.4 350.5,284.8 351.0,278.6 351.5,274.0 352.0,281.5 352.5,289.1 352.6,290.5 353.0,291.0 353.5,289.1 354.0,286.0 354.5,284.4 354.7,283.9 355.0,284.9 355.5,286.1 356.0,286.8 356.5,286.8 357.0,287.1 357.5,287.7 358.0,287.9 358.5,287.9 359.0,287.7 359.5,287.6 360.0,287.4 360.5,287.5 360.6,287.1 361.0,285.6 361.5,283.8 361.7,283.0 362.0,284.0 362.5,285.8 363.0,287.1 363.2,287.0 363.5,287.0 363.5,287.0 364.0,286.6 364.5,287.0 365.0,286.9 365.5,287.1 365.9,286.7 366.0,286.8 366.5,287.1 367.0,286.9 367.5,287.2 368.0,287.1 368.5,287.6 368.8,287.1 369.0,286.6 369.5,285.2 370.0,283.5 370.2,283.0 370.5,284.3 371.0,286.0 371.5,287.2 371.6,287.2 372.0,286.9 372.5,287.2 373.0,287.4 373.5,287.6 374.0,286.2 374.5,284.2 374.7,283.5 374.9,283.0 375.0,283.3 375.0,283.4 375.5,285.3 376.0,287.1 376.5,287.4 377.0,287.4 377.5,287.4 378.0,287.8 378.5,287.9 379.0,288.0 379.5,287.5 380.0,287.3 380.2,287.1 380.5,287.2 381.0,287.3 381.5,287.1 382.0,287.4 382.5,287.4 383.0,287.3 383.5,287.1 384.0,286.6 384.5,284.8 385.0,282.3 385.2,281.3 385.4,280.3 385.5,280.9 385.7,281.9 386.0,283.7 386.5,286.4 387.0,287.5 387.5,287.7 388.0,287.5 388.5,287.2 389.0,287.3 389.5,287.4 390.0,286.8 390.5,285.7 390.9,285.0 391.0,285.2 391.5,286.2 392.0,286.6 392.5,287.3 393.0,287.1 393.1,287.1 393.5,287.3 393.8,286.9 394.0,286.2 394.5,284.7 394.9,284.1 395.0,284.4 395.5,285.7 395.9,286.8 396.0,287.1 396.5,287.3 397.0,286.8 397.5,285.0 397.9,283.7 398.0,283.4 398.1,283.0 398.5,284.3 399.0,286.5 399.5,287.6 400.0,287.4 400.5,286.8 401.0,286.0 401.0,286.0 401.4,286.3 401.5,286.4 402.0,286.3 402.5,285.0 403.0,283.8 403.3,283.0 403.5,283.8 404.0,286.2 404.5,287.4 405.0,287.7 405.5,287.3 406.0,279.8 406.0,279.5 406.5,270.9 406.8,266.3 407.0,270.1 407.5,279.9 407.6,282.7 407.9,287.2 408.0,288.7 408.5,288.2 408.8,287.1 409.0,286.8 409.0,286.8 409.5,286.8 410.0,287.0 410.5,287.3 411.0,287.1 411.5,286.8 412.0,285.8 412.1,285.7 412.5,286.0 412.8,286.0 413.0,286.2 413.2,286.3 413.5,286.5 413.9,286.5 414.0,286.5 414.5,286.8 414.7,287.0 415.0,287.3 415.5,287.5 416.0,287.8 416.5,288.0 417.0,288.0 417.5,287.5 418.0,287.5 418.5,287.8 419.0,287.7 419.5,286.9 419.6,286.6 420.0,286.2 420.5,286.8 421.0,286.5 421.5,286.9 421.6,286.6 422.0,286.4 422.5,286.6 423.0,286.1 423.1,286.0 423.5,286.0 423.7,285.7 424.0,285.5 424.2,285.4 424.5,285.9 425.0,286.6 425.5,287.2 426.0,287.1 426.5,287.1 427.0,287.1 427.5,287.3 428.0,286.6 428.5,284.4 429.0,281.8 429.1,281.4 429.5,283.5 430.0,285.5 430.1,286.2 430.5,287.4 431.0,286.6 431.5,286.7 432.0,286.2 432.5,286.7 433.0,286.5 433.2,286.3 433.5,286.1 434.0,285.4 434.3,285.3 434.4,285.4 434.5,285.6 435.0,286.7 435.5,286.9 436.0,284.8 436.5,283.0 437.0,284.5 437.5,286.8 437.8,287.7 438.0,287.8 438.5,287.8 439.0,287.1 439.5,287.5 440.0,286.2 440.5,285.0 440.8,283.8 441.0,284.0 441.5,285.2 442.0,286.5 442.5,287.2 442.7,287.1 443.0,287.0 443.5,287.1 444.0,286.7 444.5,286.8 445.0,286.4 445.5,286.1 446.0,285.9 446.5,286.4 447.0,286.5 447.5,284.7 447.8,281.9 448.0,280.6 448.5,276.5 449.0,280.6 449.5,284.3 450.0,286.7 450.5,286.8 451.0,286.8 451.5,286.8 452.0,286.6 452.5,286.2 453.0,285.5 453.1,285.3 453.5,285.7 454.0,285.8 454.5,285.4 455.0,283.8 455.3,283.2 455.5,283.8 456.0,285.3 456.5,286.9 456.9,286.7 457.0,286.6 457.4,285.9 457.5,285.9 458.0,286.0 458.5,286.6 459.0,286.8 459.5,280.8 460.0,274.2 460.2,271.8 460.3,270.0 460.5,272.6 461.0,279.4 461.5,285.7 462.0,286.5 462.5,286.7 463.0,286.7 463.1,286.8 463.5,289.4 464.0,293.0 464.4,295.9 464.5,295.2 464.9,292.2 464.9,292.1 465.0,290.9 465.5,287.4 465.5,287.2 466.0,286.2 466.5,286.0 467.0,284.3 467.5,282.7 467.6,282.4 468.0,283.6 468.5,285.2 469.0,286.4 469.5,286.7 469.8,286.6 470.0,286.1 470.5,282.7 471.0,278.9 471.2,277.6 471.5,279.7 472.0,283.3 472.5,286.6 473.0,286.4 473.2,286.3 473.5,286.3 474.0,286.4 474.5,286.7 475.0,286.5 475.1,286.4 475.5,286.5 476.0,286.2 476.5,286.2 477.0,285.4 477.2,285.2 477.5,285.6 478.0,285.8 478.5,286.0 479.0,286.5 479.5,286.5 480.0,287.0 480.5,286.6 481.0,286.5 481.5,286.5 482.0,286.9 482.5,287.6 483.0,287.6 483.5,287.1 484.0,286.5 484.5,286.2 485.0,286.8 485.5,286.8 486.0,286.5 486.5,285.8 486.7,285.6 487.0,286.1 487.5,286.7 488.0,287.0 488.5,286.4 489.0,285.9 489.5,286.4 490.0,286.8 490.5,287.0 491.0,286.2 491.5,286.0 491.7,285.9 492.0,286.1 492.5,286.7 493.0,286.6 493.5,286.5 494.0,285.9 494.5,284.3 495.0,282.7 495.1,282.3 495.5,283.5 496.0,285.0 496.1,285.3 496.5,286.0 497.0,286.4 497.5,286.4 498.0,286.2 498.5,286.0 498.9,286.0 499.0,286.0 499.5,285.6 500.0,285.1 500.1,285.1 500.5,285.9 501.0,286.2 501.5,284.8 502.0,282.8 502.1,282.4 502.5,283.6 503.0,285.2 503.5,286.6 503.8,286.6 504.0,286.6 504.5,286.5 504.8,286.3 505.0,286.4 505.5,286.6 506.0,286.8 506.5,286.5 507.0,286.4 507.5,286.1 508.0,285.3 508.5,283.4 508.7,283.0 509.0,283.3 509.1,283.3 509.5,284.2 509.6,284.6 510.0,285.7 510.5,286.5 511.0,286.8 511.5,286.1 512.0,285.3 512.0,285.3 512.5,286.1 513.0,286.6 513.5,286.8 514.0,286.5 514.5,286.4 515.0,285.7 515.5,285.2 515.6,285.0 516.0,285.6 516.5,286.6 517.0,286.7 517.5,287.0 518.0,286.7 518.5,284.5 519.0,281.4 519.4,278.7 519.5,279.2 520.0,282.5 520.5,285.6 521.0,287.1 521.5,286.8 522.0,284.8 522.5,282.7 522.6,282.4 523.0,283.8 523.4,285.3 523.5,285.8 524.0,287.3 524.5,286.9 525.0,286.7 525.5,286.1 526.0,286.2 526.5,286.4 527.0,285.9 527.5,285.5 527.5,285.6 528.0,286.1 528.5,287.0 529.0,286.7 529.5,284.8 530.0,283.2 530.2,282.4 530.5,283.3 531.0,285.3 531.5,286.8 532.0,286.6 532.5,286.2 532.6,285.8 533.0,285.5 533.5,285.8 534.0,285.5 534.5,286.0 535.0,286.0 535.5,286.3 536.0,286.1 536.5,286.3 537.0,285.8 537.5,286.2 538.0,285.9 538.5,285.8 539.0,285.3 539.5,284.9 540.0,285.0 540.5,285.3 541.0,285.8 541.5,285.9 542.0,283.9 542.5,281.5 542.7,281.2 543.0,282.6 543.5,285.1 544.0,287.9 544.5,285.4 545.0,281.0 545.5,275.5 545.6,274.7 546.0,278.0 546.5,281.9 547.0,284.9 547.5,284.6 548.0,284.4 548.5,282.3 549.0,279.5 549.4,277.0 549.5,277.4 550.0,280.2 550.5,283.2 551.0,284.1 551.2,283.9 551.5,283.7 552.0,282.8 552.1,282.7 552.5,283.3 553.0,284.6 553.5,286.3 554.0,287.4 554.5,286.3 555.0,285.2 555.5,284.3 556.0,282.0 556.5,278.4 556.8,276.4 557.0,277.4 557.5,280.0 558.0,283.2 558.5,283.6 559.0,283.6 559.5,283.8 560.0,283.6 560.5,283.7 561.0,283.5 561.5,282.8 562.0,280.0 562.5,277.5 562.6,277.0 563.0,279.3 563.5,281.9 564.0,283.6 564.5,282.7 565.0,281.6 565.1,281.3 565.2,281.1 565.5,281.4 565.9,281.9 566.0,282.3 566.5,283.3 567.0,283.7 567.5,283.2 568.0,282.8 568.5,283.1 569.0,283.3 569.5,283.3 570.0,283.1 570.2,283.2 570.5,283.5 571.0,284.1 571.5,284.2 572.0,284.4 572.5,282.3 573.0,280.0 573.4,277.6 573.5,278.0 574.0,280.2 574.0,280.4 574.5,283.4 574.9,285.7 575.0,285.9 575.5,287.4 575.7,288.3 576.0,288.1 576.5,287.5 577.0,287.6 577.5,284.6 578.0,279.6 578.5,274.7 578.6,274.1 579.0,277.6 579.5,278.0 579.9,277.4 580.0,276.7 580.3,274.1 580.5,275.6 581.0,279.7 581.5,283.4 581.6,283.8 582.0,283.7 582.1,283.7 582.5,283.6 583.0,283.7 583.5,284.0 584.0,282.9 584.5,281.3 584.9,279.6 585.0,279.9 585.5,281.8 586.0,282.8 586.5,283.2 587.0,283.0 587.5,283.3 588.0,283.1 588.5,281.1 588.7,280.2 589.0,279.1 589.1,278.7 589.5,280.3 589.6,280.7 590.0,282.1 590.5,283.6 591.0,282.6 591.2,282.0 591.5,281.2 591.9,280.5 592.0,280.8 592.5,282.2 593.0,284.0 593.5,283.8 593.9,283.7 594.0,283.8 594.5,283.8 595.0,284.0 595.5,282.6 596.0,281.6 596.2,281.2 596.5,282.2 597.0,283.4 597.5,284.5 598.0,284.3 598.5,284.6 599.0,284.7 599.5,284.6 600.0,284.3 600.5,283.2 601.0,281.8 601.4,280.6 601.5,280.9 602.0,282.4 602.5,284.0 603.0,284.6 603.5,284.5 604.0,284.5 604.5,284.4 604.5,284.3 605.0,281.6 605.3,280.0 605.5,278.6 605.7,277.3 606.0,279.0 606.5,281.9 607.0,284.3 607.5,284.0 607.8,283.4 608.0,283.5 608.5,283.8 608.6,283.9 609.0,283.9 609.5,283.2 610.0,281.9 610.1,281.7 610.5,282.6 610.5,282.6 611.0,283.3 611.5,283.9 612.0,283.3 612.5,283.6 613.0,284.3 613.5,285.2 614.0,284.1 614.5,282.2 615.0,280.3 615.5,282.2 616.0,283.5 616.5,284.4 617.0,284.4 617.5,284.7 617.5,284.5 618.0,282.7 618.1,282.4 618.5,281.0 618.7,280.3 618.9,281.2 619.0,281.6 619.5,283.5 619.6,284.0 620.0,284.9 620.5,284.2 620.9,283.8 621.0,283.9 621.5,284.3 622.0,284.9 622.5,284.8 623.0,284.0 623.5,282.5 623.9,281.4 624.0,281.0 624.4,282.1 624.5,282.5 625.0,283.8 625.5,284.7 625.9,284.6 626.0,284.6 626.5,284.3 626.7,284.2 627.0,284.3 627.5,284.0 628.0,284.6 628.1,284.5 628.5,284.4 629.0,284.8 629.5,284.8 630.0,284.6 630.1,284.5 630.5,283.6 631.0,282.4 631.1,282.2 631.5,282.9 632.0,284.0 632.2,284.5 632.5,285.0 633.0,285.0 633.5,284.8 634.0,284.7 634.5,284.9 635.0,284.1 635.5,283.6 635.9,282.4 636.0,282.6 636.5,284.0 637.0,284.8 637.5,285.4 638.0,285.2 638.5,285.0 639.0,285.1 639.5,284.6 640.0,284.6 640.5,284.3 641.0,284.6 641.5,284.5 642.0,284.6 642.5,284.8 643.0,284.7 643.5,284.9 644.0,284.5 644.5,284.4 645.0,284.0 645.5,284.2 646.0,284.1 646.2,284.1 646.5,284.4 647.0,284.5 647.5,284.9 648.0,284.9 648.5,285.0 649.0,284.5 649.5,284.2 650.0,283.9 650.5,284.3 650.6,284.3 651.0,284.6 651.5,284.5 652.0,284.1 652.2,283.7 652.5,283.6 652.8,283.5 653.0,283.7 653.5,284.2 654.0,284.8 654.5,285.1 655.0,284.8 655.5,284.8 656.0,284.7 656.5,284.9 657.0,284.7 657.5,284.9 658.0,284.8 658.5,284.6 659.0,285.6 659.5,286.4 659.8,287.2 660.0,286.9 660.2,286.5 660.5,285.7 660.9,285.2 661.0,285.0 661.5,284.8 662.0,284.8 662.5,284.9 663.0,284.8 663.5,283.8 664.0,282.7 664.3,282.0 664.4,282.2 664.5,282.4 665.0,283.4 665.5,284.5 666.0,284.6 666.5,284.2 667.0,284.5 667.5,284.8 668.0,285.1 668.5,285.2 669.0,284.8 669.5,284.6 670.0,284.6 670.5,285.2 671.0,285.2 671.5,284.5 672.0,284.0 672.1,283.9 672.5,284.2 673.0,284.7 673.1,284.8 673.5,284.7 673.5,284.7 674.0,283.9 674.5,282.1 675.0,280.4 675.5,282.1 676.0,283.8 676.5,284.5 677.0,284.7 677.4,284.6 677.5,284.6 678.0,285.0 678.5,285.2 679.0,285.3 679.5,284.9 680.0,284.5 680.0,284.5 680.5,285.0 681.0,285.3 681.5,285.1 682.0,284.8 682.0,284.8 682.4,284.8 682.5,284.8 683.0,284.9 683.4,284.9 683.5,284.9 684.0,285.4 684.5,285.4 685.0,285.3 685.5,285.1 685.6,285.1 686.0,285.4 686.5,285.3 686.9,285.3 687.0,285.4 687.5,285.6 688.0,285.6 688.5,285.2 689.0,284.8 689.1,284.8 689.5,285.0 690.0,285.2 690.5,285.3 691.0,285.4 691.5,285.2 692.0,284.6 692.2,284.4 692.2,284.4 692.5,284.5 692.5,284.4 693.0,284.8 693.3,285.0 693.5,285.2 694.0,285.3 694.5,285.4 695.0,285.4 695.5,285.7 696.0,285.6 696.5,285.7 697.0,285.4 697.5,285.4 697.8,285.1 698.0,285.0 698.5,285.4 699.0,285.6 699.5,285.8 700.0,285.5 700.5,285.6 701.0,285.6 701.5,285.6 702.0,285.7 702.5,285.5 703.0,285.8 703.0,285.8 703.0,285.8 703.5,285.4 704.0,284.7 704.5,283.7 704.6,283.5 705.0,284.1 705.5,285.1 706.0,285.9 706.5,285.9 707.0,285.8 707.5,285.7 708.0,285.8 708.5,285.6 709.0,285.7 709.5,285.7 710.0,285.9 710.5,286.0 711.0,286.1 711.5,285.9 712.0,285.8 712.5,285.6 713.0,285.6 713.5,285.8 714.0,285.9 714.5,286.0 715.0,285.6 715.5,285.7 716.0,285.7 716.5,285.5 717.0,285.5 717.5,285.5 718.0,285.9 718.5,286.0 719.0,285.8 719.5,285.8 720.0,285.7 720.5,285.7 721.0,285.7 721.5,285.9 722.0,285.9 722.5,286.0 723.0,285.8" stroke="#6a00dc" stroke-width="1.4"/>
</g>
<path d="M219.5,19.3H723.7V299.3M227.75,19.3V299.3H723.7M219.3,284.4H227.8" fill="none" stroke="#222" stroke-width="1.35"/>
<path d="M232.75,299.5V307.5M240.38,299.5V303.5M248.01,299.5V303.5M255.64,299.5V303.5M263.27,299.5V303.5M270.90,299.5V305.5M278.53,299.5V303.5M286.16,299.5V303.5M293.79,299.5V303.5M301.42,299.5V303.5M309.05,299.5V307.5M316.68,299.5V303.5M324.31,299.5V303.5M331.94,299.5V303.5M339.57,299.5V303.5M347.20,299.5V305.5M354.83,299.5V303.5M362.46,299.5V303.5M370.09,299.5V303.5M377.72,299.5V303.5M385.35,299.5V307.5M392.98,299.5V303.5M400.61,299.5V303.5M408.24,299.5V303.5M415.87,299.5V303.5M423.50,299.5V305.5M431.13,299.5V303.5M438.76,299.5V303.5M446.39,299.5V303.5M454.02,299.5V303.5M461.65,299.5V307.5M469.28,299.5V303.5M476.91,299.5V303.5M484.54,299.5V303.5M492.17,299.5V303.5M499.80,299.5V305.5M507.43,299.5V303.5M515.06,299.5V303.5M522.69,299.5V303.5M530.32,299.5V303.5M537.95,299.5V307.5M545.58,299.5V303.5M553.21,299.5V303.5M560.84,299.5V303.5M568.47,299.5V303.5M576.10,299.5V305.5M583.73,299.5V303.5M591.36,299.5V303.5M598.99,299.5V303.5M606.62,299.5V303.5M614.25,299.5V307.5M621.88,299.5V303.5M629.51,299.5V303.5M637.14,299.5V303.5M644.77,299.5V303.5M652.40,299.5V305.5M660.03,299.5V303.5M667.66,299.5V303.5M675.29,299.5V303.5M682.92,299.5V303.5M690.55,299.5V307.5M698.18,299.5V303.5M705.81,299.5V303.5M713.44,299.5V303.5M721.07,299.5V303.5" fill="none" stroke="#222" stroke-width="1.3"/>
<rect x="465.7" y="45.6" width="231.3" height="60.8" fill="#fff" stroke="#222" stroke-width="1.2"/>
<path d="M470.8,57.8H501" stroke="#f00" stroke-width="1.2"/>
<path d="M470.8,75.8H501" stroke="#000" stroke-width="1.2"/>
<path d="M470.8,93.6H501" stroke="#7030e0" stroke-width="1.2"/>
<text x="506.3" y="61.7">no electrical field (1)</text>
<text x="506.3" y="79.5">with electrical field (2)</text>
<text x="506.3" y="97.1">difference spectrum (1) - (2)</text>
<path d="M86.9,56.3H131.5M86.9,58.3H131.5M86.9,72.3H131.5" class="lv"/>
<path d="M89.1,94.9H97.0M106.5,94.9H113.0M122.4,94.9H129.4" class="lv"/>
<path d="M71.6,35.9 C83.1,35.9 86.3,38.9 86.6,57.9 L89.0,95.3" class="w"/>
<path d="M146.6,35.9 C135.1,35.9 131.9,38.9 131.6,57.9 L129.4,95.3" class="w"/>
<path d="M97.0,95.3 L101.3,55.9 L106.5,95.3 M113.0,95.3 L117.5,55.9 L122.4,95.3" class="w" stroke-linejoin="round"/>
<path d="M16.6,155.2H61.2M16.6,157.2H61.2M16.6,171.2H61.2" class="lv"/>
<path d="M18.8,193.8H26.7M36.2,193.8H42.7M52.1,193.8H59.1" class="lv"/>
<path d="M1.3,134.8 C12.8,134.8 16.0,137.8 16.3,156.8 L18.7,194.2" class="w"/>
<path d="M76.3,134.8 C64.8,134.8 61.6,137.8 61.3,156.8 L59.1,194.2" class="w"/>
<path d="M26.7,194.2 L31.0,154.8 L36.2,194.2 M42.7,194.2 L47.2,154.8 L52.1,194.2" class="w" stroke-linejoin="round"/>
<path d="M95.3,40.4L105.6,44.2" stroke="#222" stroke-width="0.8" marker-end="url(#ah)"/>
<path d="M112.8,44.4L125.6,39" stroke="#222" stroke-width="0.8" marker-end="url(#ah)"/>
<path d="M129.5,48.6L120.4,48.6" stroke="#222" stroke-width="0.8" marker-end="url(#ah)"/>
<path d="M114.1,51L110.2,55.6" stroke="#222" stroke-width="0.8" marker-end="url(#ah)"/>
<circle cx="108.5" cy="58" r="2.8" fill="url(#gg)" stroke="#6a7a6a" stroke-width="0.5"/>
<circle cx="109.2" cy="46.3" r="2.9" fill="url(#gb)"/>
<circle cx="115.9" cy="48.7" r="2.9" fill="url(#gb)"/>
<circle cx="39" cy="192.9" r="2.6" fill="url(#gg)" stroke="#6a7a6a" stroke-width="0.5"/>
<path d="M38.8,160L38.9,190" stroke="#222" stroke-width="0.8" marker-end="url(#ah)"/>
<circle cx="38.6" cy="157.5" r="2.6" fill="url(#gb)"/>
<polyline points="41.5,176.2 41.8,175.5 42.0,174.8 42.2,174.2 42.5,173.7 42.8,173.5 43.0,173.5 43.2,173.7 43.5,174.2 43.8,174.8 44.0,175.5 44.2,176.2 44.5,177.0 44.8,177.7 45.0,178.3 45.2,178.8 45.5,179.0 45.8,179.0 46.0,178.8 46.2,178.3 46.5,177.7 46.8,177.0 47.0,176.2 47.2,175.5 47.5,174.8 47.8,174.2 48.0,173.7 48.2,173.5 48.5,173.5 48.8,173.7 49.0,174.2 49.2,174.8 49.5,175.5 49.8,176.2 50.0,177.0 50.2,177.7 50.5,178.3 50.8,178.8 51.0,179.0 51.2,179.0 51.5,178.8 51.8,178.3 52.0,177.7 52.2,177.0 52.5,176.2 52.8,175.5 53.0,174.8 53.2,174.2 53.5,173.7 53.8,173.5 54.0,173.5 54.2,173.7 54.5,174.2 54.8,174.8 55.0,175.5 55.2,176.2 55.5,177.0 55.8,177.7 56.0,178.3 56.2,178.8 56.5,179.0 56.8,179.0 57.0,178.8 57.2,178.3 57.5,177.7 57.8,177.0 58.0,176.2 58.2,175.5 58.5,174.8 58.8,174.2 59.0,173.7 59.2,173.5 59.5,173.5 59.8,173.7 60.0,174.2 60.2,174.8 60.5,175.5 60.8,176.2 61.0,177.0 61.2,177.7 61.5,178.3 61.8,178.8 62.0,179.0 62.2,179.0 62.5,178.8 62.8,178.3 63.0,177.7 63.2,177.0 63.5,176.2 63.8,175.5 64.0,174.8 64.2,174.2 64.5,173.7 64.8,173.5 65.0,173.5 65.2,173.7 65.5,174.2 65.8,174.8 66.0,175.5 66.2,176.2 66.5,177.0 66.8,177.7 67.0,178.3 67.2,178.8 67.5,179.0 67.8,179.0 68.0,178.8 68.2,178.3 68.5,177.7 68.8,177.0 69.0,176.2" fill="none" stroke="#8800ff" stroke-width="1.6"/><path d="M69.0,176.2H72.6" stroke="#8800ff" stroke-width="1.6"/><path d="M71.0,173.6L76.6,176.2L71.0,178.9L72.4,176.2z" fill="#8800ff"/>
<path d="M103.9,104.5L89.6,117.1" stroke="#f00" stroke-width="2.1" marker-end="url(#ahr)"/>
<path d="M112.9,110.7L112.9,194.8" stroke="#f00" stroke-width="2.1" marker-end="url(#ahr)"/>
<path d="M87.4,281.1H132.4" stroke="#d0d0d0" stroke-width="2.6"/>
<path d="M87.8,295.4H132.0M89.6,318.0H97.2M123.5,318.0H130.9" class="lv"/>
<path d="M72.3,259.4 C83.8,259.4 87.0,262.4 87.3,281.4 L89.7,318.8" class="w"/>
<path d="M147.3,259.4 C135.8,259.4 132.6,262.4 132.3,281.4 L130.1,318.8" class="w"/>
<path d="M97.2,318.5 L101.0,281.0 Q101.6,278.6 102.2,281.0 L106.9,317.5 Q110.0,320.7 113.2,317.5 L117.1,281.0 Q117.7,278.6 118.3,281.0 L123.5,318.5" class="w"/>
<ellipse cx="109.1" cy="250.8" rx="49.8" ry="5.0" fill="#c4c4c4"/>
<ellipse cx="109" cy="327.7" rx="49.8" ry="4.9" fill="#c4c4c4"/>
<path d="M136.1,250.6h6.4M139.3,247.8v5.6" stroke="#fff" stroke-width="1.5"/>
<path d="M135.8,327.5h7" stroke="#fff" stroke-width="1.4"/>
<path d="M106.6,250V238.6H44.6V275.8M44.6,292.7V339.2H107.1V331.5" fill="none" stroke="#777" stroke-width="1.4"/>
<circle cx="44.6" cy="278.7" r="2.8" fill="#fff" stroke="#808080" stroke-width="1.2"/>
<circle cx="44.6" cy="289.8" r="2.8" fill="#fff" stroke="#808080" stroke-width="1.2"/>
<text x="50.7" y="288.7" style="font-size:9.9px;font-weight:bold">U</text>
<circle cx="110.3" cy="317.3" r="2.6" fill="url(#gg)" stroke="#6a7a6a" stroke-width="0.5"/>
<path d="M109.9,285L109.9,313" stroke="#222" stroke-width="0.8" marker-end="url(#ah)"/>
<path d="M110,279L110,272.3" stroke="#222" stroke-width="0.8" marker-end="url(#ah)"/>
<circle cx="110" cy="281.6" r="2.8" fill="url(#gb)"/>
<polyline points="113.2,300.4 113.5,299.6 113.7,298.9 114.0,298.3 114.2,297.8 114.5,297.6 114.7,297.6 115.0,297.9 115.2,298.3 115.5,298.9 115.7,299.7 116.0,300.5 116.2,301.3 116.5,302.0 116.7,302.6 117.0,303.0 117.2,303.2 117.5,303.2 117.7,302.9 118.0,302.4 118.2,301.8 118.5,301.0 118.7,300.2 119.0,299.5 119.2,298.7 119.5,298.2 119.7,297.8 120.0,297.6 120.2,297.7 120.5,297.9 120.7,298.4 121.0,299.1 121.2,299.8 121.5,300.6 121.7,301.4 122.0,302.1 122.2,302.7 122.5,303.0 122.7,303.2 123.0,303.1 123.2,302.8 123.5,302.3 123.7,301.6 124.0,300.9 124.2,300.1 124.5,299.3 124.7,298.6 125.0,298.1 125.2,297.7 125.5,297.6 125.7,297.7 126.0,298.0 126.2,298.6 126.5,299.2 126.7,300.0 127.0,300.8 127.2,301.6 127.5,302.2 127.7,302.8 128.0,303.1 128.2,303.2 128.4,303.1 128.7,302.7 128.9,302.2 129.2,301.5 129.4,300.7 129.7,299.9 129.9,299.2 130.2,298.5 130.4,298.0 130.7,297.7 130.9,297.6 131.2,297.8 131.4,298.1 131.7,298.7 131.9,299.4 132.2,300.2 132.4,301.0 132.7,301.7 132.9,302.4 133.2,302.9 133.4,303.1 133.7,303.2 133.9,303.0 134.2,302.6 134.4,302.1 134.7,301.3 134.9,300.6 135.2,299.8 135.4,299.0 135.7,298.4 135.9,297.9 136.2,297.6 136.4,297.6 136.7,297.8 136.9,298.2 137.2,298.8 137.4,299.5 137.7,300.3 137.9,301.1 138.2,301.9 138.4,302.5 138.7,302.9 138.9,303.2 139.2,303.2 139.4,303.0 139.7,302.5 139.9,301.9 140.2,301.2 140.4,300.4" fill="none" stroke="#8800ff" stroke-width="1.6"/><path d="M140.4,300.4H143.9" stroke="#8800ff" stroke-width="1.6"/><path d="M142.3,297.7L147.9,300.4L142.3,303.1L143.7,300.4z" fill="#8800ff"/>
<path d="M107.6,297.9l4.9,4.7M112.5,297.9l-4.9,4.7" stroke="#f00" stroke-width="1.6"/>
<path d="M121.4,305.5L133.8,293.2M122.1,292.9L133.8,305.5" stroke="#f00" stroke-width="1.3"/>
</svg></body></html>
